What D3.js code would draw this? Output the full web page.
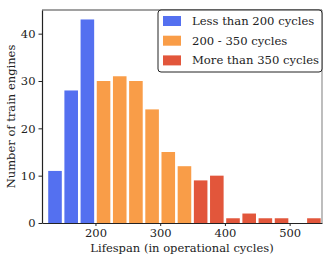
<!DOCTYPE html>
<html><head><meta charset="utf-8">
<script src="https://cdn.jsdelivr.net/npm/d3@7"></script>
<style>body{margin:0;background:#fff}svg{display:block}text{font-family:"DejaVu Serif",serif;fill:#222}</style>
</head><body><svg id="c" width="332" height="266"></svg>
<script>
const binStarts = [125,150,175,200,225,250,275,300,325,350,375,400,425,450,475,500,525];
const binWidth = 25;
const counts = [11,28,43,30,31,30,24,15,12,9,10,1,2,1,1,0,1];
const groupNames = ["Less than 200 cycles","200 - 350 cycles","More than 350 cycles"];
const groupColors = ["#5470f0","#f99d48","#e2563b"];
const groupOf = s => s < 200 ? 0 : (s < 350 ? 1 : 2);
const xTicks = [200,300,400,500];
const yTicks = [0,10,20,30,40];
const FONT = "'DejaVu Serif', serif";

const svg = d3.select("#c");
const L=42, R=322, T=10, B=223;
const x = d3.scaleLinear().domain([117.4,550]).range([L,R]);
const y = d3.scaleLinear().domain([0,45]).range([B,T]);

svg.append("g").selectAll("rect").data(binStarts).join("rect")
  .attr("x", d=>x(d)+1.3)
  .attr("width", d=>x(d+binWidth)-x(d)-2.6)
  .attr("y", (d,i)=>y(counts[i]))
  .attr("height", (d,i)=>y(0)-y(counts[i]))
  .attr("fill", d=>groupColors[groupOf(d)]);

svg.append("line").attr("x1",L).attr("x2",R).attr("y1",T).attr("y2",T).attr("stroke","#444").attr("stroke-width",1.1);
svg.append("line").attr("x1",R).attr("x2",R).attr("y1",T).attr("y2",B).attr("stroke","#888").attr("stroke-width",1.1);

const xa = svg.append("g").attr("transform",`translate(0,${B})`)
  .call(d3.axisBottom(x).tickValues(xTicks).tickSize(3).tickPadding(3).tickSizeOuter(0));
const ya = svg.append("g").attr("transform",`translate(${L},0)`)
  .call(d3.axisLeft(y).tickValues(yTicks).tickSize(3.5).tickPadding(3).tickSizeOuter(0));
[xa,ya].forEach(a=>{
  a.attr("font-family",FONT).attr("font-size",11.5);
  a.select(".domain").attr("stroke","#222").attr("stroke-width",1.2);
  a.selectAll(".tick line").attr("stroke","#222");
  a.selectAll("text").attr("fill","#222");
});

svg.append("text").attr("x",(L+R)/2).attr("y",252).attr("text-anchor","middle")
  .attr("font-family",FONT).attr("font-size",11.5).text("Lifespan (in operational cycles)");
svg.append("text").attr("transform",`translate(15,${(T+B)/2}) rotate(-90)`).attr("text-anchor","middle")
  .attr("font-family",FONT).attr("font-size",11.5).text("Number of train engines");

const lg = svg.append("g");
lg.append("rect").attr("x",158).attr("y",10).attr("width",164).attr("height",62).attr("rx",3)
  .attr("fill","#fff").attr("stroke","#222").attr("stroke-width",1);
groupNames.forEach((n,i)=>{
  const cy = 21 + i*19.7;
  lg.append("rect").attr("x",163).attr("y",cy-5).attr("width",18).attr("height",10).attr("fill",groupColors[i]);
  lg.append("text").attr("x",192).attr("y",cy+4).attr("font-family",FONT).attr("font-size",11.6).text(n);
});
</script></body></html>
